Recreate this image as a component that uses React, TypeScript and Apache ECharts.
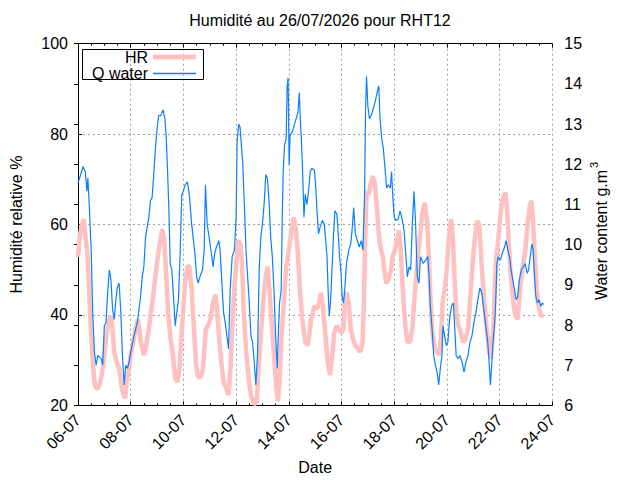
import React, { useEffect, useRef } from "react";
import * as echarts from "echarts";

// Hours since 06-07 00:00 and values
const qHours = [0, 1.5, 4.5, 6.6, 8.1, 9, 10.5, 12, 13.5, 15, 16.5, 18, 21, 22.5, 24, 25.5, 27, 28.5, 30, 31.5, 33, 34.5, 36, 37.5, 39, 40.5, 42, 43.5, 45, 46.5, 48, 51, 54, 57, 58.5, 60, 61.5, 64.5, 66, 67.5, 69, 70.5, 72, 73.5, 75.6, 77.4, 79.2, 80.4, 81.6, 82.8, 84, 85.5, 87, 88.5, 90, 91.5, 93, 94.5, 96, 97.5, 99.6, 101.4, 103.5,
  106.5, 108, 109.5, 111, 113.4, 114.9, 116.1, 117.6, 119.4, 121.5, 123, 124.5, 126, 128.4, 129.6, 131.4, 132.6, 134.1, 135.6, 137.1, 138.6, 140.4, 142.5, 144, 144.9, 146.4, 147.6, 148.8, 150, 151.5, 153, 154.5, 156, 157.5, 159, 160.5, 162, 163.5, 165, 166.5, 168, 169.5, 171, 172.5, 174, 175.5, 177, 178.5, 180, 181.5, 182.4, 183.6, 185.1, 186, 186.9, 188.1, 189.6, 190.5, 191.4, 192.3, 193.2, 195, 196.5, 198.6, 200.4, 201.6, 202.5, 203.4, 204.6, 205.8, 207, 208.5, 210, 211.5,
  213, 215.4, 216.6, 217.5, 219, 220.5, 222.6, 224.4, 225.6, 226.8, 228, 228.9, 230.1, 231.6, 232.8, 234, 235.8, 237, 238.2, 239.4, 240.6, 241.8, 243, 244.5, 246.6, 248.4, 249.6, 251.1, 252.6, 254.4, 256.2, 258, 259.5, 261, 261.9, 262.8, 264, 265.5, 267, 268.8, 270.6, 272.4, 273.9, 275.1, 276.6, 278.1, 279.6, 281.1, 282.6, 284.4, 285.6, 286.8, 288, 289.8, 291.6, 293.4, 295.5, 297, 298.5, 300, 301.5, 303, 304.5, 306, 307.5, 309, 310.5, 312, 314.4, 316.5, 318.6, 319.8, 321, 322.5, 324,
  325.5, 327, 328.5, 330, 331.5, 332.4, 333.9, 335.4, 336.9, 338.4, 340.2, 342, 343.2, 344.4, 346.2, 348, 349.8, 351.6, 353.4, 355.2, 357, 358.8, 360.6, 362.4, 364.2, 366, 367.8, 369.6, 371.4, 373.2, 374.4, 375.6, 376.8, 378, 379.5, 380.4, 381.6, 382.8, 384.6, 386.4, 388.5, 390, 391.5, 393, 394.5, 396, 397.5, 399, 400.5, 402, 403.8, 405.6, 407.4, 408.9, 410.4, 411.9, 413.4, 414.6, 415.8, 417, 418.5, 420, 421.5, 423, 424.2];
const qValues = [11.53, 11.66, 11.94, 11.82, 11.33, 11.66, 10.84, 9.86, 8.22, 7.32, 7.0, 7.24, 7.17, 7.0, 7.98, 8.06, 8.8, 9.37, 9.13, 8.39, 8.14, 8.63, 8.96, 9.04, 8.31, 7.24, 6.51, 7.0, 6.92, 7.08, 7.32, 7.73, 8.06, 8.71, 9.2, 9.45, 10.19, 10.68, 11.09, 11.17, 11.74, 12.39, 12.88, 13.21, 13.21, 13.36, 13.13, 12.64, 11.82, 10.84, 9.53, 9.37, 8.71, 7.98, 8.31, 8.63, 9.78, 11.25, 11.33, 11.49, 11.56, 11.25, 10.51,
  9.78, 9.2, 9.04, 9.2, 9.37, 9.86, 11.49, 10.51, 10.19, 9.78, 9.45, 9.78, 9.94, 10.1, 9.78, 8.88, 8.31, 8.06, 7.73, 7.41, 8.88, 9.7, 9.86, 10.68, 12.56, 13.0, 12.93, 12.47, 12.07, 11.0, 9.86, 9.2, 8.55, 7.73, 7.57, 7.08, 6.51, 7.24, 9.37, 10.19, 10.51, 11.0, 11.74, 11.66, 11.09, 10.19, 9.7, 8.88, 7.73, 6.92, 7.73, 8.55, 8.88, 10.6, 11.82, 12.47, 12.64, 13.95, 14.15, 11.98, 12.72, 12.8, 12.93, 13.13, 13.3, 13.78, 13.13, 12.64, 11.82, 10.68, 11.25, 11.0, 11.33, 11.82,
  11.9, 11.86, 11.41, 10.92, 10.27, 10.43, 10.6, 10.51, 10.1, 9.7, 8.71, 8.22, 8.63, 9.53, 10.27, 10.84, 10.76, 10.27, 9.7, 9.37, 8.71, 8.55, 8.88, 9.53, 9.86, 10.02, 10.35, 10.92, 10.27, 10.1, 9.94, 10.1, 9.86, 11.25, 13.37, 14.19, 13.45, 13.13, 13.21, 13.37, 13.54, 13.78, 13.95, 13.13, 12.64, 12.39, 11.9, 11.41, 11.49, 11.41, 11.82, 11.17, 10.68, 10.6, 10.64, 10.84, 10.6, 10.35, 9.78, 9.2, 9.45, 9.37, 10.51, 11.33, 10.51, 9.2, 9.04, 9.7, 9.53, 9.61, 9.7, 9.2, 8.45, 7.9, 7.24,
  7.0, 6.83, 6.51, 6.92, 7.24, 7.98, 7.73, 7.49, 7.57, 8.14, 8.47, 8.55, 7.9, 7.24, 7.16, 7.24, 7.08, 6.83, 7.08, 7.24, 7.57, 7.73, 8.06, 8.31, 8.63, 8.92, 8.8, 8.39, 7.98, 7.57, 7.08, 6.51, 7.0, 7.57, 8.06, 8.55, 9.53, 9.7, 9.61, 9.78, 9.94, 10.1, 9.86, 9.7, 9.37, 9.12, 8.88, 8.63, 8.71, 9.12, 9.37, 9.45, 9.53, 9.29, 9.37, 9.7, 10.02, 9.86, 9.2, 8.71, 8.55, 8.63, 8.47, 8.55, 8.51];

const hrHours = [0, 1.5, 3.6, 5.4, 6.9, 8.4, 9.6, 10.5, 12, 13.5, 15, 16.5, 18, 19.5, 21, 22.5, 24, 25.5, 27, 28.5, 30, 31.5, 33, 34.5, 36, 37.5, 39, 41.4, 42.9, 44.4, 46.5, 48, 50.4, 52.5, 54.6, 56.4, 58.5, 60, 61.5, 63.6, 66, 68.4, 70.5, 72.6, 75, 76.8, 78.6, 80.4, 81.9, 84, 86.4, 88.5, 90.6, 92.4, 93.6, 95.4, 97.5, 99.6, 101.4, 103.5, 105.6, 107.4, 108.9,
  111, 113.4, 114.9, 116.4, 118.5, 120.6, 123, 125.1, 126.6, 128.4, 130.5, 132.6, 135, 137.1, 138.9, 140.4, 142.5, 144.6, 146.1, 147.9, 149.4, 150.9, 153, 155.4, 157.5, 160.5, 162.9, 164.4, 166.5, 168.6, 171, 172.5, 174, 176.4, 178.5, 180.6, 182.1, 183.6, 185.4, 187.5, 189.6, 192, 194.4, 196.5, 198.6, 200.4, 202.5, 204.6, 207, 209.1, 210.6, 212.4,
  215.4, 217.5, 219.6, 221.4, 222.9, 224.4, 225.9, 227.4, 229.5, 231.6, 233.4, 235.5, 237.6, 240, 241.8, 243, 244.8, 246.6, 248.4, 250.5, 252.6, 255, 257.1, 259.2, 260.4, 261.6, 262.8, 264.6, 266.4, 268.5, 270.6, 272.4, 274.2, 276, 277.5, 279, 280.8, 282.6, 285, 286.5, 288.6, 290.4, 292.5, 294, 295.5, 297, 298.5, 300, 302.4, 304.5, 306.6, 309, 311.4, 313.5, 315.9, 318, 319.5, 321,
  322.5, 324, 325.5, 327, 329.1, 330.6, 332.1, 333.9, 335.4, 336.9, 338.4, 339.9, 341.4, 342.9, 344.4, 346.5, 348.6, 351, 353.1, 355.2, 357, 359.4, 361.5, 363.6, 365.4, 366.9, 368.4, 369.9, 371.4, 372.9, 374.4, 375.9, 377.4, 378.6, 379.8, 381, 382.5, 384, 385.5, 387, 389.4, 390.9, 392.4, 393.9, 395.4, 396.9, 398.4, 400.5, 402, 403.8, 405.6, 407.4, 409.5, 411.6, 413.1, 414.6, 416.4, 417.9, 419.4, 420.9, 422.4, 424.2];
const hrValues = [52.85, 57.2, 60.1, 61.2, 57.2, 53.6, 48.5, 42.7, 35.4, 29.6, 25.2, 23.8, 23.8, 24.5, 26, 28.2, 31.1, 34.7, 36.9, 39.1, 39.8, 36.9, 31.8, 30.3, 28.9, 28.2, 25.2, 22.3, 21.6, 25.2, 28.2, 31.1, 34, 36.9, 39.1, 35.4, 32.5, 31.1, 32.5, 35.4, 39.8, 44.1, 48.5, 52.9, 56.5, 59, 56.5, 48.5, 41.2, 35.4, 31.1, 26, 25.2, 28.2, 33.2, 39.8, 47, 50.7, 50.7, 45.6, 36.9, 29.6, 26.7,
  26, 27.4, 31.8, 36.9, 37.6, 39.1, 42.7, 44.5, 41.2, 35.4, 29.6, 25.2, 23.8, 22.3, 28.2, 36.9, 46.3, 52.9, 56.5, 55.7, 51.4, 41.2, 32.5, 26, 22.3, 20.2, 20.9, 28.2, 35.4, 42.7, 48.5, 50.7, 47, 38.3, 31.1, 23.8, 20.9, 25.2, 35.4, 42.7, 50.7, 54.3, 58.7, 61.6, 58.7, 52.9, 44.1, 38.3, 34, 33.2, 35.4, 39.1,
  42, 41.2, 42.7, 44.9, 42, 38.3, 34, 29.6, 26.7, 31.1, 36.1, 37.6, 36.9, 36.1, 36.9, 42.7, 44.9, 42.7, 36.9, 34.7, 33.2, 32.5, 31.8, 34, 42.7, 57.2, 67.4, 66.6, 68.8, 70.7, 68.8, 63, 57.2, 54.3, 52.9, 49.9, 47, 47.8, 49.9, 52.9, 54.3, 56.5, 58.7, 54.3, 47, 41.2, 36.9, 34, 34, 36.9, 44.1, 51.4, 57.2, 62.3, 64.8, 60.8, 52.9, 44.1,
  36.9, 34, 32.5, 31.8, 31.1, 35.4, 42.7, 45.6, 48.5, 54.3, 58.7, 61.2, 57.2, 48.5, 41.2, 37.6, 36.1, 34, 34.7, 36.9, 42.7, 51.4, 57.2, 60.8, 60.1, 54.3, 48.5, 43.4, 39.1, 35.4, 31.8, 30.3, 34, 39.1, 47, 52.9, 55.7, 60.1, 63.7, 65.9, 67, 63, 55.7, 49.9, 45.6, 42, 39.8, 39.1, 44.1, 48.5, 51.4, 54.3, 60.1, 64.5, 65.2, 60.1, 51.4, 45.6, 42, 40.5, 39.8, 39.8];

const FONT = "'Liberation Sans', Arial, sans-serif";
const GRID_STYLE = { color: "#a0a0a0", type: [2, 3] as number[], width: 1 };
const HR_COLOR = "#ffc0c0";
const Q_COLOR = "#0a80ff";

function dateLabel(h: number): string {
  const d = 6 + Math.round(h / 24);
  return (d < 10 ? "0" + d : "" + d) + "-07";
}

export default function App() {
  const ref = useRef<HTMLDivElement>(null);
  useEffect(() => {
    if (!ref.current) return;
    const chart = echarts.init(ref.current, undefined, { renderer: "svg" });
    const hrData = hrHours.map((h, i) => [h, hrValues[i]]);
    const qData = qHours.map((h, i) => [h, qValues[i]]);
    const xCommon = {
      type: "value",
      min: 0,
      max: 432,
      interval: 48,
      axisLine: { show: true, onZero: false, lineStyle: { color: "#000", width: 1 } },
      axisTick: { show: true, inside: true, length: 4, lineStyle: { color: "#000" } },
      minorTick: { show: true, splitNumber: 4, length: 2, lineStyle: { color: "#000" } },
    };
    const legendText = { fontFamily: FONT, fontSize: 16, color: "#000", lineHeight: 16 };
    chart.setOption({
      animation: false,
      backgroundColor: "#fff",
      textStyle: { fontFamily: FONT },
      title: {
        text: "Humidité au 26/07/2026 pour RHT12",
        left: "center",
        top: 12,
        padding: 0,
        textStyle: { fontFamily: FONT, fontSize: 16, fontWeight: "normal", color: "#000" },
      },
      legend: [
        {
          data: ["HR"],
          right: 444,
          top: 49,
          padding: 0,
          align: "right",
          icon: "rect",
          itemWidth: 43,
          itemHeight: 5,
          selectedMode: false,
          itemStyle: { color: HR_COLOR, borderWidth: 0 },
          textStyle: legendText,
        },
        {
          data: ["Q water"],
          right: 444,
          top: 65.5,
          padding: 0,
          align: "right",
          icon: "rect",
          itemWidth: 43,
          itemHeight: 1.5,
          selectedMode: false,
          itemStyle: { color: Q_COLOR, borderWidth: 0 },
          textStyle: legendText,
        },
      ],
      graphic: [
        {
          type: "rect",
          shape: { x: 82.5, y: 49.5, width: 121, height: 30 },
          style: { fill: "none", stroke: "#000", lineWidth: 1 },
          z: 100,
        },
        {
          type: "text",
          x: 601,
          y: 235,
          rotation: Math.PI / 2,
          style: {
            text: "Water content g.m",
            fontFamily: FONT,
            fontSize: 16,
            fill: "#000",
            align: "center",
            verticalAlign: "middle",
          },
        },
        {
          type: "text",
          x: 593.5,
          y: 165,
          rotation: Math.PI / 2,
          style: {
            text: "3",
            fontFamily: FONT,
            fontSize: 11,
            fill: "#000",
            align: "center",
            verticalAlign: "middle",
          },
        },
      ],
      grid: { left: 73.3, right: 87.7, top: 43.7, bottom: 69.3, containLabel: false },
      xAxis: [
        {
          ...xCommon,
          position: "bottom",
          name: "Date",
          nameLocation: "middle",
          nameGap: 48,
          nameTextStyle: { fontFamily: FONT, fontSize: 16, color: "#000" },
          axisLabel: {
            show: true,
            rotate: 45,
            margin: 12,
            fontFamily: FONT,
            fontSize: 16,
            color: "#000",
            formatter: (v: number) => dateLabel(v),
          },
          splitLine: { show: true, lineStyle: GRID_STYLE },
        },
        {
          ...xCommon,
          position: "top",
          axisLabel: { show: false },
          splitLine: { show: false },
        },
      ],
      yAxis: [
        {
          type: "value",
          position: "left",
          min: 20,
          max: 100,
          interval: 20,
          name: "Humidité relative %",
          nameLocation: "middle",
          nameGap: 54,
          nameRotate: 90,
          nameTextStyle: { fontFamily: FONT, fontSize: 16, color: "#000" },
          axisLine: { show: true, lineStyle: { color: "#000", width: 1 } },
          axisTick: { show: true, inside: true, length: 4, lineStyle: { color: "#000" } },
          axisLabel: { margin: 10, fontFamily: FONT, fontSize: 16, color: "#000" },
          splitLine: { show: true, lineStyle: GRID_STYLE },
        },
        {
          type: "value",
          position: "right",
          min: 6,
          max: 15,
          interval: 1,
          axisLine: { show: true, lineStyle: { color: "#000", width: 1 } },
          axisTick: { show: true, inside: true, length: 4, lineStyle: { color: "#000" } },
          axisLabel: { margin: 12, fontFamily: FONT, fontSize: 16, color: "#000" },
          splitLine: { show: false },
        },
      ],
      series: [
        {
          name: "HR",
          type: "line",
          xAxisIndex: 0,
          yAxisIndex: 0,
          data: hrData,
          symbol: "none",
          color: HR_COLOR,
          lineStyle: { color: HR_COLOR, width: 4.5 },
          z: 2,
        },
        {
          name: "Q water",
          type: "line",
          xAxisIndex: 0,
          yAxisIndex: 1,
          data: qData,
          symbol: "none",
          color: Q_COLOR,
          lineStyle: { color: Q_COLOR, width: 1.2 },
          z: 3,
        },
      ],
    });
    return () => chart.dispose();
  }, []);
  return (
    <div
      ref={ref}
      style={{ position: "absolute", left: 0, top: 0, width: 640, height: 480 }}
    />
  );
}
